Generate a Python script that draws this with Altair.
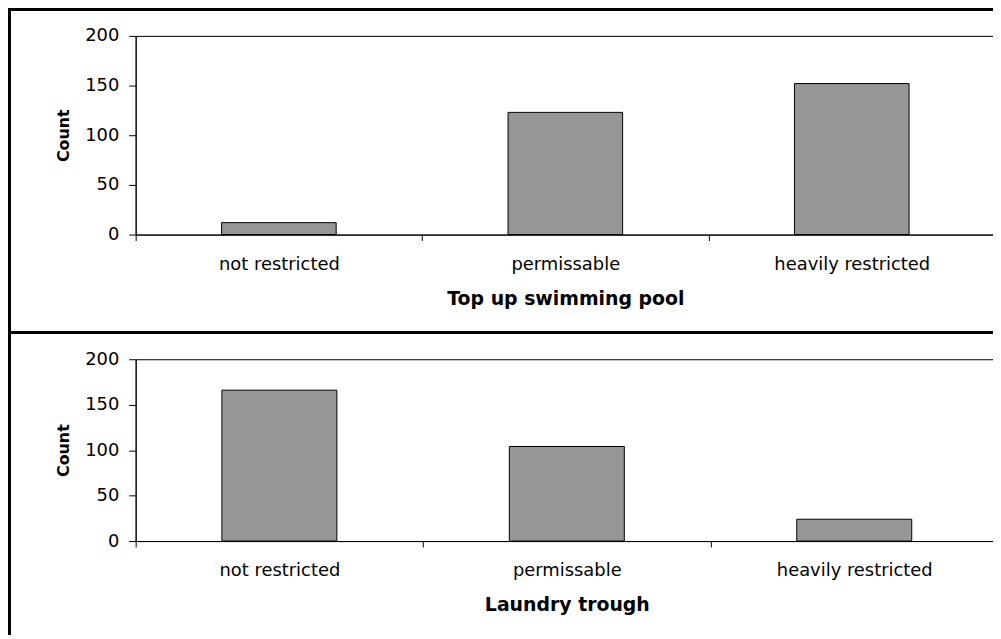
import altair as alt
import pandas as pd

categories = ["not restricted", "permissable", "heavily restricted"]
pool_counts = [12, 123, 152]
trough_counts = [166, 104, 24]
y_ticks = [0, 50, 100, 150, 200]
panel_titles = ["Top up swimming pool", "Laundry trough"]
y_title = "Count"

FONT = "DejaVu Sans"
BAR_FILL = "#969696"

label_expr = "[" + ",".join("'" + c + "'" for c in categories) + "][floor(datum.value)]"
n = len(categories)


def panel(counts, title, W, H, frame_top, frame_bottom):
    df = pd.DataFrame({"category": categories, "count": counts, "idx": list(range(n))})
    base = alt.Chart(df).transform_calculate(
        x0="datum.idx + 0.3", x1="datum.idx + 0.7", xc="datum.idx + 0.5"
    )
    xscale = alt.Scale(domain=[0, n], nice=False, zero=False)
    yscale = alt.Scale(domain=[0, 200], nice=False)
    bars = base.mark_bar(color=BAR_FILL, stroke="black", strokeWidth=1).encode(
        x=alt.X("x0:Q", scale=xscale,
                axis=alt.Axis(values=list(range(n + 1)), labels=False, ticks=True,
                              tickSize=6, tickColor="black", domainColor="black",
                              grid=False, title=None, orient="bottom")),
        x2="x1:Q",
        y=alt.Y("count:Q", scale=yscale,
                axis=alt.Axis(values=y_ticks, grid=False, title=y_title,
                              tickSize=7, labelPadding=10, titlePadding=13,
                              labelFontSize=18, titleFontSize=16)),
        y2=alt.datum(0),
    )
    labels = base.mark_point(opacity=0).encode(
        x=alt.X("xc:Q", scale=xscale,
                axis=alt.Axis(values=[i + 0.5 for i in range(n)], labelExpr=label_expr,
                              ticks=False, domain=False, grid=False, orient="bottom",
                              title=title, labelPadding=21, titlePadding=16,
                              labelFontSize=18, titleFontSize=19)),
    )
    one = alt.Chart(pd.DataFrame({"a": [0]}))
    ftop = one.mark_rule(color="black", strokeWidth=3).encode(
        x=alt.value(-128.5), x2=alt.value(W + 10), y=alt.value(frame_top)
    )
    fleft = one.mark_rule(color="black", strokeWidth=3).encode(
        x=alt.value(-127), y=alt.value(frame_top - 1.5), y2=alt.value(frame_bottom)
    )
    return alt.layer(ftop, fleft, bars, labels).resolve_axis(x="independent").properties(
        width=W, height=H
    )


top = panel(pool_counts, panel_titles[0], 865, 200, -26.5, 300)
bottom = panel(trough_counts, panel_titles[1], 868, 183, -27, 300)

chart = alt.vconcat(top, bottom).properties(
    spacing=125.5, bounds="flush",
    padding={"left": -2.5, "top": -4, "right": -17, "bottom": -27},
).configure(
    background="white"
).configure_view(
    stroke="black", strokeWidth=1
).configure_axis(
    labelFont=FONT, labelColor="black",
    titleFont=FONT, titleColor="black", titleFontWeight="bold",
    domainColor="black", tickColor="black",
)

chart.save("out.html", embed_options={"renderer": "svg", "actions": False})
